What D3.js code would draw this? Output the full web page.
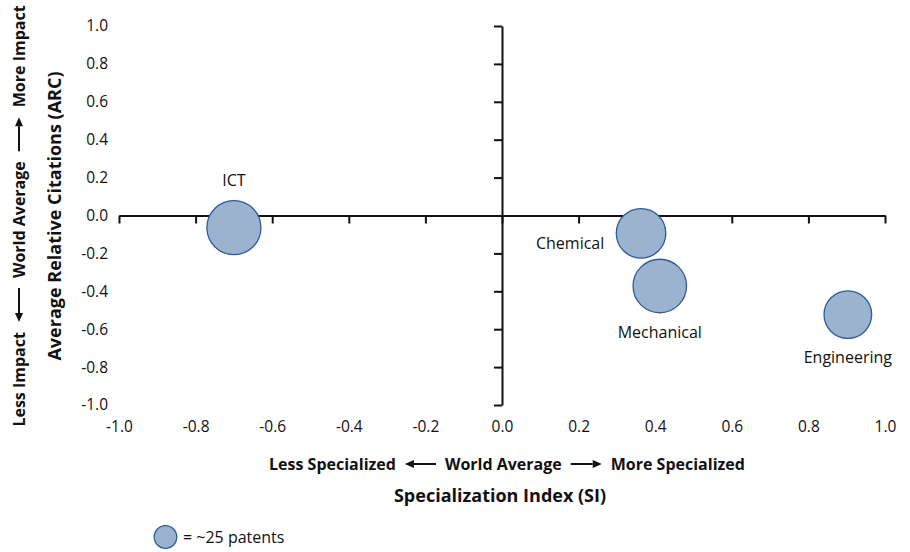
<!DOCTYPE html>
<html><head><meta charset="utf-8">
<script src="https://cdn.jsdelivr.net/npm/d3@7"></script>
<style>
body{margin:0;background:#fff;}
svg{display:block;}
text{font-family:'Open Sans',sans-serif;fill:#111;}
</style></head>
<body><svg id="c" width="910" height="552"></svg>
<script>
// ---- data ----
const categories = ["ICT", "Chemical", "Mechanical", "Engineering"];
const siValues   = [-0.70, 0.363, 0.412, 0.903];
const arcValues  = [-0.064, -0.094, -0.372, -0.523];
const patents    = [143, 120, 140, 111];
const labelSide  = ["above", "left", "below", "below"];
const tickValues = [-1.0, -0.8, -0.6, -0.4, -0.2, 0.0, 0.2, 0.4, 0.6, 0.8, 1.0];
const legendPatents = 25;
const legendText = "= ~25 patents";

// ---- layout ----
const svg = d3.select("#c");
const x = d3.scaleLinear().domain([-1, 1]).range([119, 885]);
const y = d3.scaleLinear().domain([-1, 1]).range([405, 26]);
const r = d3.scaleSqrt().domain([0, legendPatents]).range([0, 11.3]);
const fillC = "#9cb3d0", strokeC = "#2c5c98";
const fmt = v => d3.format(".1f")(v).replace("\u2212", "-");

// axis lines through origin
const gx = svg.append("g").attr("transform", `translate(0,${y(0)})`)
  .call(d3.axisBottom(x).tickValues(tickValues).tickSize(8).tickSizeOuter(0).tickFormat(""));
const gy = svg.append("g").attr("transform", `translate(${x(0)},0)`)
  .call(d3.axisLeft(y).tickValues(tickValues).tickSize(8).tickSizeOuter(0).tickFormat(""));
[gx, gy].forEach(g => {
  g.select(".domain").attr("stroke", "#111").attr("stroke-width", 2);
  g.selectAll(".tick line").attr("stroke", "#111").attr("stroke-width", 2);
});

// tick labels at plot edges
const lx = svg.append("g").attr("transform", `translate(0,${y(-1) + 13})`)
  .call(d3.axisBottom(x).tickValues(tickValues).tickSize(0).tickFormat(fmt));
const ly = svg.append("g").attr("transform", `translate(${x(-1) - 8},0)`)
  .call(d3.axisLeft(y).tickValues(tickValues).tickSize(0).tickFormat(fmt));
[lx, ly].forEach(g => {
  g.select(".domain").remove();
  g.selectAll("text").attr("font-family", null).style("font-size", "15.5px").attr("fill", "#111");
});

// bubbles
const data = categories.map((c, i) => ({c, si: siValues[i], arc: arcValues[i], n: patents[i], side: labelSide[i]}));
svg.append("g").selectAll("circle").data(data).join("circle")
  .attr("cx", d => x(d.si)).attr("cy", d => y(d.arc)).attr("r", d => r(d.n))
  .attr("fill", fillC).attr("stroke", strokeC).attr("stroke-width", 1.3);

svg.append("g").selectAll("text").data(data).join("text")
  .style("font-size", "16px")
  .attr("x", d => d.side === "left" ? x(d.si) - r(d.n) - 12 : x(d.si))
  .attr("y", d => d.side === "above" ? y(d.arc) - r(d.n) - 15 : d.side === "below" ? y(d.arc) + r(d.n) + 25 : y(d.arc) + 16)
  .attr("text-anchor", d => d.side === "left" ? "end" : "middle")
  .text(d => d.c);

// helper: row of text pieces with arrows
function arrowRow(g, parts, fs, cx, cy, gap, arrowLen) {
  const items = [];
  let total = 0;
  parts.forEach(p => {
    if (p === "L" || p === "R") { items.push({arrow: p, w: arrowLen}); total += arrowLen; }
    else {
      const t = g.append("text").style("font-size", fs + "px").attr("font-weight", "bold").text(p);
      const w = t.node().getComputedTextLength();
      items.push({t, w}); total += w;
    }
  });
  total += gap * (items.length - 1);
  let pos = cx - total / 2;
  items.forEach(it => {
    if (it.t) { it.t.attr("x", pos).attr("y", cy).attr("dy", "0.35em"); }
    else {
      const x0 = pos, x1 = pos + it.w;
      const tip = it.arrow === "L" ? x0 : x1, base = it.arrow === "L" ? x0 + 9 : x1 - 9;
      g.append("line").attr("x1", it.arrow === "L" ? base : x0).attr("x2", it.arrow === "L" ? x1 : base)
        .attr("y1", cy).attr("y2", cy).attr("stroke", "#111").attr("stroke-width", 2);
      g.append("path").attr("d", `M${tip},${cy}L${base},${cy - 4}L${base},${cy + 4}Z`).attr("fill", "#111");
    }
    pos += it.w + gap;
  });
}

// x subtitle and title
arrowRow(svg.append("g"), ["Less Specialized", "L", "World Average", "R", "More Specialized"], 16, 507, 464, 9, 31);
svg.append("text").attr("x", 500).attr("y", 496).attr("dy", "0.35em").attr("text-anchor", "middle")
  .attr("font-weight", "bold").style("font-size", "18px").text("Specialization Index (SI)");

// y title and subtitle (rotated)
svg.append("text").attr("transform", "translate(55,216) rotate(-90)").attr("dy", "0.35em")
  .attr("text-anchor", "middle").attr("font-weight", "bold").style("font-size", "18px")
  .text("Average Relative Citations (ARC)");
const gr = svg.append("g").attr("transform", "translate(19,0) rotate(-90)");
arrowRow(gr, ["Less Impact", "L", "World Average", "R", "More Impact"], 16, -216, 0, 10, 34);

// legend
svg.append("circle").attr("cx", 165.5).attr("cy", 537).attr("r", r(legendPatents))
  .attr("fill", fillC).attr("stroke", strokeC).attr("stroke-width", 1.3);
svg.append("text").attr("x", 183).attr("y", 537).attr("dy", "0.35em").style("font-size", "16px").text(legendText);
</script></body></html>
